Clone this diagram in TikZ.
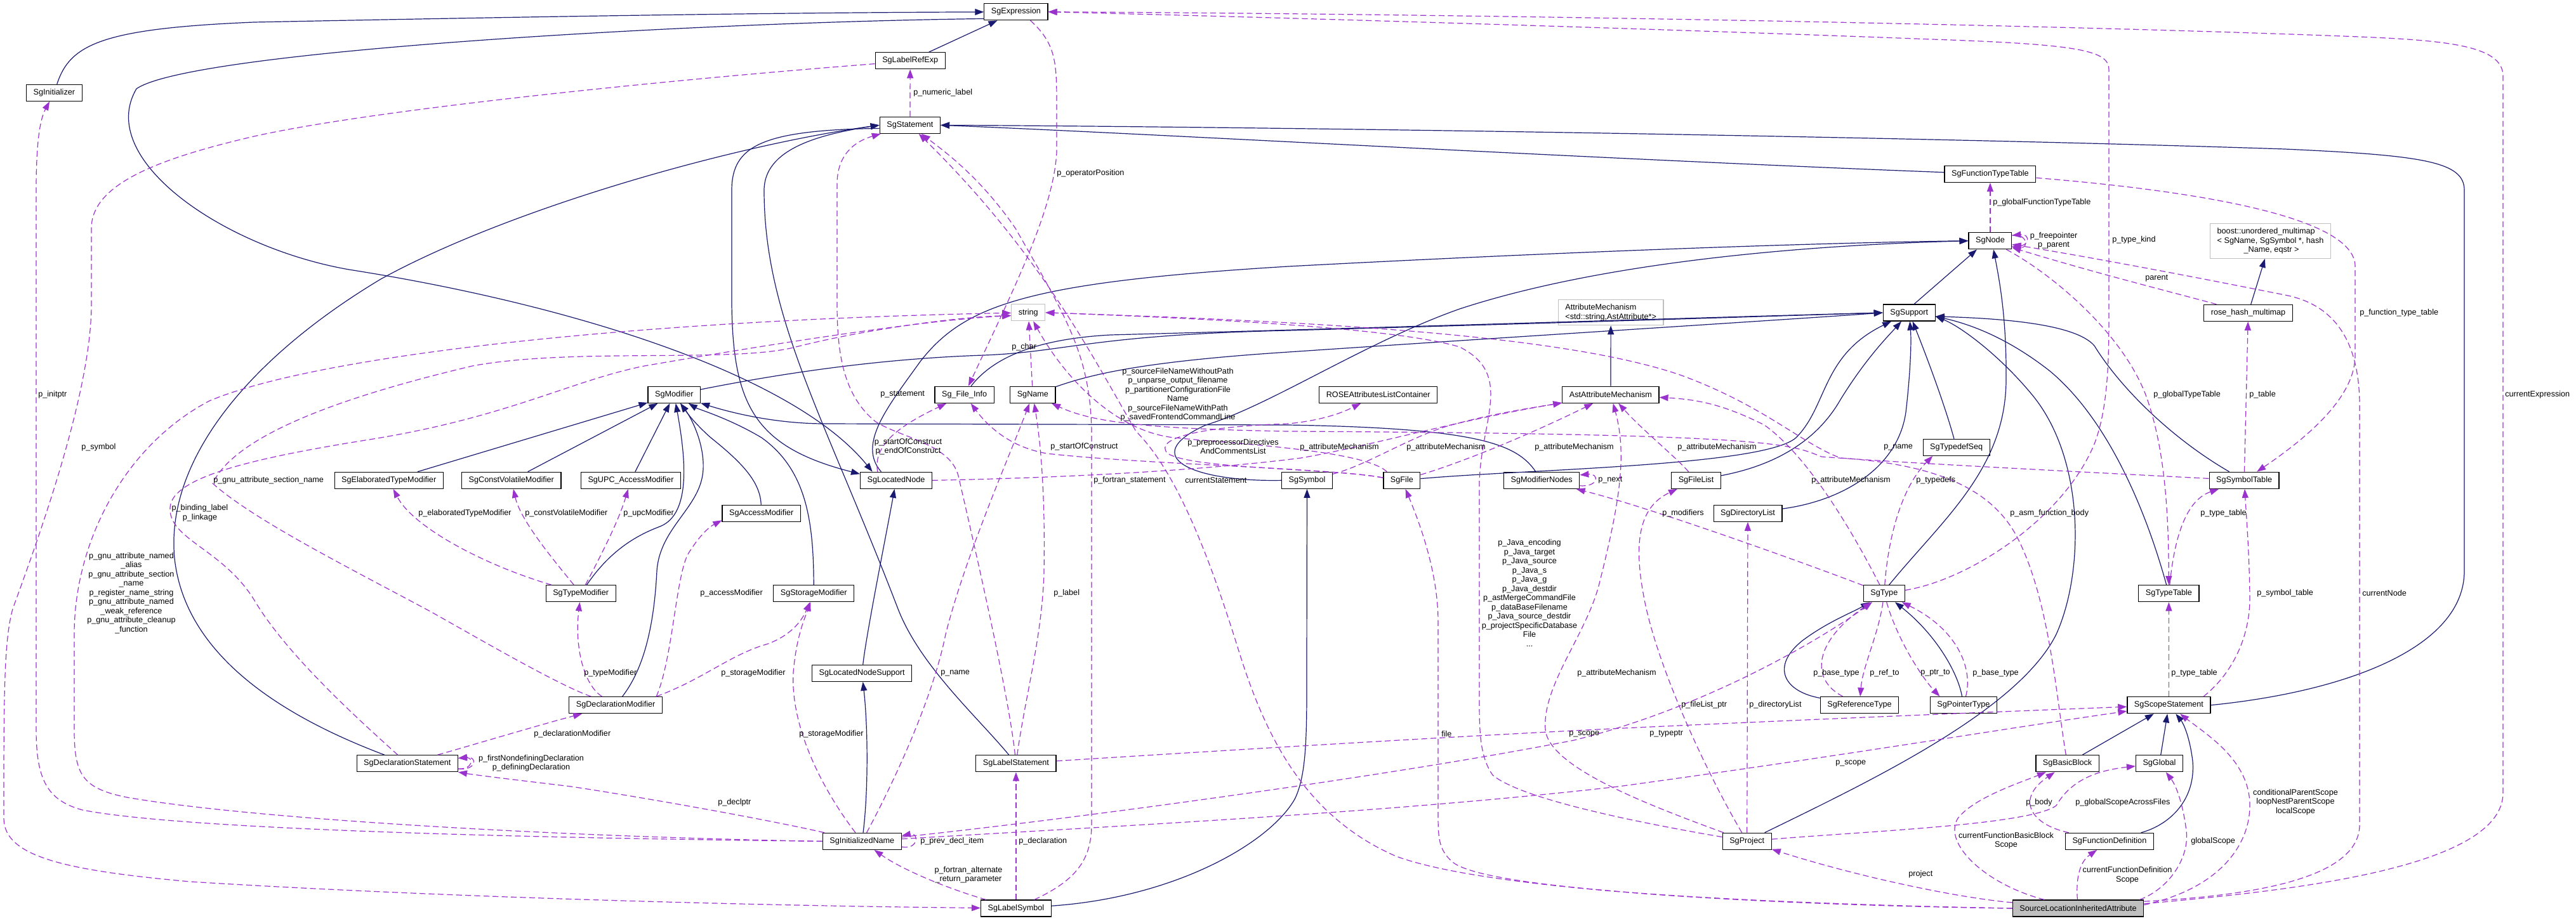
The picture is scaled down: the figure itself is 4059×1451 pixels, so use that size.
\documentclass[tikz,border=0pt]{standalone}
\usepackage{fontspec}
\setmainfont{Liberation Sans}
\usetikzlibrary{arrows.meta}
\definecolor{inh}{HTML}{191970}
\definecolor{use}{HTML}{9A32CD}
\definecolor{extb}{HTML}{BFBFBF}
\begin{document}
\begin{tikzpicture}[x=0.25mm,y=-0.25mm,
  every node/.style={font=\fontsize{9}{10.3}\selectfont},
  cls/.style={draw=black, line width=0.3mm, fill=white, minimum height=6.5mm, inner xsep=2.75mm, inner ysep=0.5mm},
  ext/.style={cls, draw=extb},
  hl/.style={cls, fill=extb},
  inhe/.style={draw=inh, line width=0.3mm, -{Triangle[length=3.5mm,width=2.5mm]}},
  usee/.style={draw=use, line width=0.3mm, dash pattern=on 2.3mm off 1.3mm, -{Triangle[length=3.5mm,width=2.5mm]}},
  lab/.style={inner sep=0pt, anchor=west},
  labc/.style={inner sep=0pt, align=center}]
\fill[white] (0,0) rectangle (4059,1451);
\useasboundingbox (0,0) rectangle (4059,1451);

% ---------- nodes ----------
\node[cls] (init) at (85.4,146.3) {SgInitializer};
\node[cls] (expr) at (1600.9,18.7) {SgExpression};
\node[cls] (lre) at (1434.2,95.7) {SgLabelRefExp};
\node[cls] (stmt) at (1433.9,197.3) {SgStatement};
\node[cls] (ftt) at (3135.9,274.5) {SgFunctionTypeTable};
\node[cls] (sgnode) at (3135.9,379.7) {SgNode};
\node[ext, align=left, minimum height=13.75mm] (boost) at (3577.5,379.8) {boost::unordered\_multimap\\< SgName, SgSymbol *, hash\\\hspace*{10.5mm}\_Name, eqstr >};
\node[cls] (rhm) at (3542.5,493.3) {rose\_hash\_multimap};
\node[ext] (strg) at (1620.3,492.8) {string};
\node[ext, align=left, minimum height=10mm] (attm) at (2538.2,492.7) {AttributeMechanism\\<std::string,AstAttribute*>};
\node[cls] (sup) at (3008.2,493) {SgSupport};
\node[cls] (mod) at (1062.3,622.3) {SgModifier};
\node[cls] (sfi) at (1519.6,622.3) {Sg\_File\_Info};
\node[cls] (sgname) at (1627.4,622.3) {SgName};
\node[cls] (ralc) at (2171.7,622.3) {ROSEAttributesListContainer};
\node[cls] (aam) at (2537.9,622.3) {AstAttributeMechanism};
\node[cls] (etm) at (612.7,757.3) {SgElaboratedTypeModifier};
\node[cls] (cvm) at (805.8,757.3) {SgConstVolatileModifier};
\node[cls] (upc) at (994,757.3) {SgUPC\_AccessModifier};
\node[cls] (acc) at (1199.7,809.3) {SgAccessModifier};
\node[cls] (lnode) at (1412,757.3) {SgLocatedNode};
\node[cls] (sym) at (2059.5,757.3) {SgSymbol};
\node[cls] (sgfile) at (2208.9,757.3) {SgFile};
\node[cls] (mnodes) at (2429.2,757.3) {SgModifierNodes};
\node[cls] (flist) at (2672.5,757.3) {SgFileList};
\node[cls] (tseq) at (3082.6,705.3) {SgTypedefSeq};
\node[cls] (stab) at (3536.1,757.3) {SgSymbolTable};
\node[cls] (dlist) at (2754,809.3) {SgDirectoryList};
\node[cls] (tmod) at (915.2,935.7) {SgTypeModifier};
\node[cls] (smod) at (1282.2,935.7) {SgStorageModifier};
\node[cls] (lns) at (1358.2,1061.3) {SgLocatedNodeSupport};
\node[cls] (sgtype) at (2968.8,935.7) {SgType};
\node[cls] (ttab) at (3417.4,935.7) {SgTypeTable};
\node[cls] (dmod) at (970.1,1111.7) {SgDeclarationModifier};
\node[cls] (reft) at (2930,1111.7) {SgReferenceType};
\node[cls] (ptrt) at (3093.9,1111.7) {SgPointerType};
\node[cls] (scst) at (3417.4,1111.7) {SgScopeStatement};
\node[cls] (dstmt) at (641.8,1203.7) {SgDeclarationStatement};
\node[cls] (lstmt) at (1600.9,1203.7) {SgLabelStatement};
\node[cls] (bb) at (3257.6,1203.7) {SgBasicBlock};
\node[cls] (glob) at (3402.5,1203.7) {SgGlobal};
\node[cls] (iname) at (1358.3,1326.3) {SgInitializedName};
\node[cls] (proj) at (2752.7,1326.3) {SgProject};
\node[cls] (fdef) at (3323.9,1326.3) {SgFunctionDefinition};
\node[cls] (lsym) at (1600.9,1432) {SgLabelSymbol};
\node[hl] (slia) at (3274.6,1432) {SourceLocationInheritedAttribute};

% ---------- inheritance ----------
\draw[inhe] (init) .. controls (110,70) and (160,45) .. (400,35) .. controls (800,27) and (1200,20) .. (expr);
\draw[inhe] (expr.192) .. controls (1100,35) and (300,80) .. (215,140) .. controls (150,250) and (350,390) .. (550,425) .. controls (900,480) and (1250,590) .. (lnode.160);
\draw[inhe] (lre) -- (expr);
\draw[inhe] (stmt.186) .. controls (1200,205) and (1153,230) .. (1153,300) -- (1153,480) .. controls (1155,640) and (1190,705) .. (lnode.170);
\draw[inhe] (lstmt) .. controls (1540,1130) and (1450,1050) .. (1415,960) .. controls (1300,660) and (1204,500) .. (1204,300) .. controls (1204,235) and (1290,212) .. (stmt.west);
\draw[inhe] (dstmt) .. controls (420,1120) and (290,1020) .. (275,880) .. controls (260,720) and (400,560) .. (600,440) .. controls (800,330) and (1150,230) .. (stmt.west);
\draw[inhe] (scst.east) .. controls (3700,1090) and (3883,1020) .. (3883,900) -- (3883,300) .. controls (3883,255) and (3820,245) .. (3600,235) .. controls (3000,215) and (2000,200) .. (stmt.east);
\draw[inhe] (ftt) .. controls (2500,250) and (1800,210) .. (stmt.east);
\draw[inhe] (lnode.150) .. controls (1350,700) and (1400,640) .. (1450,570) .. controls (1520,480) and (1620,445) .. (2030,420) .. controls (2500,395) and (2900,382) .. (sgnode.west);
\draw[inhe] (sym.west) .. controls (1880,760) and (1790,720) .. (1900,670) .. controls (2000,640) and (2150,540) .. (2300,487) .. controls (2550,405) and (2900,385) .. (sgnode.west);
\draw[inhe] (sup.60) -- (sgnode.213);
\draw[inhe] (sgtype.60) .. controls (3060,820) and (3160,740) .. (3161,600) .. controls (3162,500) and (3150,440) .. (sgnode.291);
\draw[inhe] (mod) .. controls (1250,585) and (1400,565) .. (1550,560) .. controls (1680,555) and (1720,528) .. (2030,521) .. controls (2500,508) and (2800,498) .. (sup.west);
\draw[inhe] (sfi) .. controls (1560,570) and (1620,535) .. (1750,528) .. controls (2200,516) and (2700,500) .. (sup.west);
\draw[inhe] (sgname) .. controls (1720,590) and (1800,570) .. (2030,555) .. controls (2400,530) and (2800,505) .. (sup.west);
\draw[inhe] (sgfile) .. controls (2400,740) and (2780,735) .. (2830,690) .. controls (2880,640) and (2870,560) .. (sup);
\draw[inhe] (mnodes) .. controls (2390,700) and (2330,675) .. (2030,670) -- (1300,668) .. controls (1220,668) and (1150,650) .. (mod);
\draw[inhe] (flist) .. controls (2790,735) and (2860,700) .. (2900,630) .. controls (2940,565) and (2975,530) .. (sup);
\draw[inhe] (dlist) .. controls (2900,790) and (2990,740) .. (3003,650) .. controls (3010,590) and (3012,540) .. (sup);
\draw[inhe] (tseq) .. controls (3065,640) and (3035,560) .. (sup);
\draw[inhe] (stab) .. controls (3420,690) and (3340,610) .. (3300,545) .. controls (3270,510) and (3150,502) .. (sup.-8);
\draw[inhe] (ttab) .. controls (3380,800) and (3320,660) .. (3230,585) .. controls (3160,530) and (3100,510) .. (sup.-8);
\draw[inhe] (proj) .. controls (2950,1230) and (3180,1120) .. (3240,1000) .. controls (3285,900) and (3285,720) .. (3200,620) .. controls (3150,560) and (3090,515) .. (sup.-8);
\draw[inhe] (etm) -- (mod);
\draw[inhe] (cvm) -- (mod);
\draw[inhe] (upc) -- (mod);
\draw[inhe] (acc) .. controls (1198,760) and (1170,730) .. (1120,690) .. controls (1095,668) and (1082,650) .. (mod);
\draw[inhe] (smod) .. controls (1282,820) and (1270,740) .. (1200,690) .. controls (1150,660) and (1100,645) .. (mod);
\draw[inhe] (tmod) .. controls (960,870) and (1000,845) .. (1040,830) .. controls (1090,810) and (1080,720) .. (mod);
\draw[inhe] (dmod) .. controls (1010,1060) and (1030,1000) .. (1035,900) .. controls (1040,830) and (1105,800) .. (1108,740) .. controls (1110,700) and (1090,660) .. (mod);
\draw[inhe] (lns) .. controls (1365,1000) and (1395,850) .. (lnode);
\draw[inhe] (iname) .. controls (1368,1250) and (1368,1150) .. (lns);
\draw[inhe] (lsym) .. controls (1850,1415) and (2000,1330) .. (2040,1260) .. controls (2060,1220) and (2059,1150) .. (2059,1050) -- (sym);
\draw[inhe] (reft) .. controls (2810,1090) and (2790,1050) .. (2840,1010) .. controls (2880,980) and (2920,965) .. (sgtype);
\draw[inhe] (ptrt) .. controls (3085,1060) and (3050,1000) .. (sgtype);
\draw[inhe] (bb) -- (scst);
\draw[inhe] (glob) -- (scst);
\draw[inhe] (fdef) .. controls (3420,1300) and (3460,1260) .. (3455,1200) .. controls (3450,1160) and (3440,1140) .. (scst);
\draw[inhe] (rhm) -- (boost);
\draw[inhe] (aam) -- (attm);

% ---------- usage ----------
\draw[usee] (iname.west) .. controls (900,1322) and (300,1310) .. (130,1277) .. controls (75,1262) and (57,1230) .. (57,1150) -- (57,300) .. controls (57,230) and (62,190) .. (init);
\draw[usee] (lre.185) .. controls (1100,122) and (600,170) .. (400,215) .. controls (250,250) and (144,290) .. (144,360) -- (144,480) .. controls (144,620) and (60,850) .. (20,960) .. controls (6,1010) and (6,1100) .. (6,1290) .. controls (6,1350) and (100,1372) .. (300,1390) .. controls (700,1415) and (1200,1428) .. (lsym);
\draw[usee] (iname.west) .. controls (900,1320) and (400,1292) .. (200,1257) .. controls (130,1243) and (117,1222) .. (117,1150) -- (117,1000) .. controls (117,850) and (200,700) .. (330,632) .. controls (500,560) and (1000,505) .. (strg);
\draw[usee] (dmod) .. controls (880,1080) and (760,1010) .. (680,965) .. controls (550,895) and (400,820) .. (335,762) .. controls (370,690) and (520,630) .. (744,577) .. controls (900,548) and (1150,572) .. (1250,548) .. controls (1350,522) and (1500,500) .. (strg.190);
\draw[usee] (dstmt) .. controls (560,1130) and (450,1030) .. (400,945) .. controls (350,865) and (265,850) .. (268,800) .. controls (271,752) and (400,722) .. (582,693) .. controls (800,658) and (900,600) .. (1015,577) .. controls (1200,545) and (1450,505) .. (strg.190);
\draw[usee] (sgname) -- (strg);
\draw[usee] (expr.-31) .. controls (1665,70) and (1665,100) .. (1665,170) -- (1665,240) .. controls (1660,330) and (1600,450) .. (sfi);
\draw[usee] (stmt) -- (lre);
\draw[usee] (lstmt) .. controls (1590,1100) and (1540,880) .. (1510,750) .. controls (1497,700) and (1420,690) .. (1380,665) .. controls (1330,625) and (1319,560) .. (1319,480) -- (1319,290) .. controls (1319,250) and (1340,225) .. (stmt);
\draw[usee] (lsym) .. controls (1690,1390) and (1720,1360) .. (1720,1300) -- (1720,680) .. controls (1718,560) and (1680,500) .. (1600,360) .. controls (1545,280) and (1490,240) .. (stmt);
\draw[usee] (slia.180) .. controls (2800,1427) and (2350,1405) .. (2200,1350) .. controls (2050,1285) and (1990,1150) .. (1950,1020) .. controls (1900,860) and (1850,740) .. (1790,680) .. controls (1720,560) and (1640,400) .. (stmt);
\draw[usee] (lnode.155) .. controls (1375,700) and (1420,670) .. (sfi);
\draw[usee] (sgfile.172) .. controls (2100,738) and (1800,732) .. (1650,715) .. controls (1590,705) and (1555,670) .. (sfi);
\draw[usee] (sgfile.150) .. controls (2150,710) and (1950,700) .. (1850,690) .. controls (1760,680) and (1680,600) .. (strg.-60);
\draw[usee] (sgfile.172) .. controls (2100,738) and (1880,740) .. (1840,715) .. controls (1815,690) and (1900,672) .. (2030,668) .. controls (2090,662) and (2120,648) .. (ralc);
\draw[usee] (lnode.east) .. controls (1750,752) and (1950,735) .. (2050,722) .. controls (2150,705) and (2300,662) .. (aam);
\draw[usee] (sym) .. controls (2150,735) and (2220,690) .. (2280,672) .. controls (2350,652) and (2420,642) .. (aam);
\draw[usee] (sgfile) .. controls (2300,730) and (2400,690) .. (aam);
\draw[usee] (flist) .. controls (2640,720) and (2590,680) .. (aam);
\draw[usee] (sgtype) .. controls (2920,840) and (2850,720) .. (2780,670) .. controls (2720,640) and (2680,630) .. (aam);
\draw[usee] (proj) .. controls (2600,1270) and (2440,1210) .. (2435,1150) .. controls (2430,1080) and (2500,1000) .. (2520,920) .. controls (2550,800) and (2565,720) .. (aam);
\draw[usee] (mnodes.-8) .. controls (2520,768) and (2520,746) .. (mnodes.8);
\draw[usee] (sgtype) .. controls (2850,890) and (2600,800) .. (mnodes);
\draw[usee] (stab) .. controls (3300,745) and (3000,730) .. (2870,720) .. controls (2820,700) and (2800,684) .. (2030,680) .. controls (1800,676) and (1720,665) .. (sgname);
\draw[usee] (sgtype) .. controls (2975,850) and (2995,770) .. (tseq.200);
\draw[usee] (bb) .. controls (3240,1100) and (3230,950) .. (3180,850) .. controls (3140,770) and (3050,732) .. (2900,722) .. controls (2840,700) and (2780,640) .. (2650,592) .. controls (2450,522) and (2000,505) .. (strg.east);
\draw[usee] (sgtype) .. controls (3100,915) and (3250,820) .. (3300,700) .. controls (3323,640) and (3323,560) .. (3323,480) -- (3323,110) .. controls (3323,80) and (3280,70) .. (3045,62) .. controls (2600,45) and (2000,27) .. (expr.east);
\draw[usee] (slia.4) .. controls (3600,1405) and (3944,1370) .. (3944,1250) -- (3944,120) .. controls (3944,70) and (3850,63) .. (3692,57) .. controls (3200,38) and (2300,22) .. (expr.east);
\draw[usee] (ftt) .. controls (3450,300) and (3711,340) .. (3711,420) -- (3711,560) .. controls (3711,620) and (3650,680) .. (stab);
\draw[usee] (sgnode) -- (ftt);
\draw[usee] (sgnode.-14) .. controls (3200,392) and (3200,368) .. (sgnode.14);
\draw[usee] (sgnode.14) .. controls (3196,368) and (3196,392) .. (sgnode.-14);
\draw[usee] (rhm) .. controls (3420,460) and (3300,430) .. (sgnode);
\draw[usee] (sgnode) .. controls (3230,430) and (3340,520) .. (3380,620) .. controls (3410,700) and (3417,800) .. (ttab);
\draw[usee] (slia.6) .. controls (3550,1412) and (3718,1385) .. (3718,1300) -- (3718,640) .. controls (3718,540) and (3680,480) .. (3600,465) .. controls (3400,425) and (3260,400) .. (sgnode);
\draw[usee] (ttab) .. controls (3425,860) and (3440,790) .. (stab);
\draw[usee] (scst) -- (ttab);
\draw[usee] (scst.14) .. controls (3520,1060) and (3546,1000) .. (3545,940) .. controls (3544,870) and (3540,820) .. (stab);
\draw[usee] (stab) -- (rhm);
\draw[usee] (slia) .. controls (3130,1395) and (3060,1330) .. (3085,1290) .. controls (3110,1258) and (3180,1235) .. (bb);
\draw[usee] (fdef) .. controls (3200,1300) and (3175,1260) .. (bb);
\draw[usee] (proj) .. controls (2950,1310) and (3200,1300) .. (3240,1270) .. controls (3262,1232) and (3300,1215) .. (glob);
\draw[usee] (slia) .. controls (3271,1390) and (3275,1360) .. (fdef);
\draw[usee] (slia.8) .. controls (3420,1400) and (3450,1350) .. (3445,1310) .. controls (3440,1270) and (3430,1240) .. (glob);
\draw[usee] (slia.3) .. controls (3500,1400) and (3545,1330) .. (3545,1270) .. controls (3545,1200) and (3480,1160) .. (scst);
\draw[usee] (slia.175) .. controls (3080,1415) and (2920,1380) .. (proj);
\draw[usee] (slia.180) .. controls (2800,1425) and (2350,1405) .. (2290,1360) .. controls (2266,1340) and (2266,1320) .. (2266,1280) -- (2266,980) .. controls (2266,900) and (2235,820) .. (sgfile);
\draw[usee] (proj) .. controls (2600,1300) and (2400,1262) .. (2352,1222) .. controls (2331,1192) and (2331,1150) .. (2331,1100) -- (2331,760) .. controls (2334,660) and (2385,590) .. (2300,547) .. controls (2200,517) and (1900,502) .. (strg.east);
\draw[usee] (proj) .. controls (2690,1220) and (2610,1050) .. (2590,940) .. controls (2575,860) and (2580,800) .. (flist);
\draw[usee] (proj) -- (dlist);
\draw[usee] (iname) .. controls (1700,1290) and (2200,1222) .. (2480,1167) .. controls (2700,1112) and (2880,1000) .. (sgtype);
\draw[usee] (iname) .. controls (1800,1300) and (2200,1280) .. (2550,1240) .. controls (2900,1192) and (3150,1150) .. (scst);
\draw[usee] (lstmt) .. controls (1900,1185) and (2300,1160) .. (2600,1146) .. controls (2900,1132) and (3200,1120) .. (scst);
\draw[usee] (reft) .. controls (2850,1070) and (2860,1010) .. (sgtype);
\draw[usee] (sgtype) .. controls (2960,1000) and (2935,1050) .. (reft);
\draw[usee] (sgtype) .. controls (2990,1010) and (3030,1070) .. (ptrt.160);
\draw[usee] (ptrt) .. controls (3110,1050) and (3080,990) .. (sgtype);
\draw[usee] (tmod) .. controls (760,890) and (650,830) .. (etm);
\draw[usee] (tmod) .. controls (870,880) and (820,820) .. (cvm);
\draw[usee] (tmod) .. controls (950,870) and (975,820) .. (upc);
\draw[usee] (dmod) .. controls (920,1080) and (905,1020) .. (tmod);
\draw[usee] (dmod.12) .. controls (1060,1040) and (1065,905) .. (1085,872) .. controls (1100,848) and (1115,832) .. (acc.190);
\draw[usee] (dmod.12) .. controls (1110,1070) and (1150,1032) .. (1210,1015) .. controls (1250,1000) and (1265,975) .. (smod);
\draw[usee] (iname) .. controls (1300,1250) and (1245,1150) .. (1250,1060) .. controls (1255,1000) and (1270,970) .. (smod);
\draw[usee] (dstmt) .. controls (760,1170) and (860,1140) .. (dmod);
\draw[usee] (dstmt.-6) .. controls (752,1215) and (752,1192) .. (dstmt.6);
\draw[usee] (dstmt.-6) .. controls (746,1213) and (746,1194) .. (dstmt.6);
\draw[usee] (iname) .. controls (1200,1290) and (1000,1255) .. (900,1240) .. controls (800,1228) and (750,1222) .. (dstmt);
\draw[usee] (iname.-8) .. controls (1448,1340) and (1448,1312) .. (iname.8);
\draw[usee] (lsym) .. controls (1490,1400) and (1420,1370) .. (iname);
\draw[usee] (lsym) -- (lstmt);
\draw[usee] (iname) .. controls (1410,1230) and (1470,1100) .. (1490,1000) .. controls (1520,880) and (1590,720) .. (sgname);
\draw[usee] (lstmt) .. controls (1615,1100) and (1643,1000) .. (1645,900) .. controls (1647,780) and (1640,700) .. (sgname);

% ---------- labels ----------
\node[lab] (L1) at (1439,146) {p\_numeric\_label};
\node[lab] (L2) at (1665,273) {p\_operatorPosition};
\node[lab] (L3) at (60,622) {p\_initptr};
\node[lab] (L4) at (128,705) {p\_symbol};
\node[labc] (L5) at (207,935) {p\_gnu\_attribute\_named\\\_alias\\p\_gnu\_attribute\_section\\\_name\\p\_register\_name\_string\\p\_gnu\_attribute\_named\\\_weak\_reference\\p\_gnu\_attribute\_cleanup\\\_function};
\node[lab] (L6) at (336,757) {p\_gnu\_attribute\_section\_name};
\node[labc] (L7) at (315,808.5) {p\_binding\_label\\p\_linkage};
\node[lab] (L8) at (659,809) {p\_elaboratedTypeModifier};
\node[lab] (L9) at (827,809) {p\_constVolatileModifier};
\node[lab] (L10) at (982,809) {p\_upcModifier};
\node[lab] (L11) at (920,1061) {p\_typeModifier};
\node[lab] (L12) at (1103,935) {p\_accessModifier};
\node[lab] (L13) at (1136,1061) {p\_storageModifier};
\node[lab] (L14) at (1259,1157) {p\_storageModifier};
\node[lab] (L15) at (841,1157) {p\_declarationModifier};
\node[labc] (L16) at (837,1203) {p\_firstNondefiningDeclaration\\p\_definingDeclaration};
\node[lab] (L17) at (1131,1265) {p\_declptr};
\node[lab] (L18) at (1450,1326) {p\_prev\_decl\_item};
\node[labc] (L19) at (1526,1379) {p\_fortran\_alternate\\\_return\_parameter};
\node[lab] (L20) at (1605,1326) {p\_declaration};
\node[lab] (L21) at (1482,1061) {p\_name};
\node[lab] (L22) at (1660,935) {p\_label};
\node[labc] (L23) at (1431,704) {p\_startOfConstruct\\p\_endOfConstruct};
\node[lab] (L24) at (1655,704) {p\_startOfConstruct};
\node[lab] (L25) at (1387,622) {p\_statement};
\node[lab] (L26) at (1594,547) {p\_char};
\node[labc] (L27) at (1856,622) {p\_sourceFileNameWithoutPath\\p\_unparse\_output\_filename\\p\_partitionerConfigurationFile\\Name\\p\_sourceFileNameWithPath\\p\_savedFrontendCommandLine};
\node[lab] (L28) at (1723,757) {p\_fortran\_statement};
\node[lab] (L29) at (1867,757) {currentStatement};
\node[labc] (L30) at (1943,704) {p\_preprocessorDirectives\\AndCommentsList};
\node[lab] (L31) at (2048,705) {p\_attributeMechanism};
\node[lab] (L32) at (2216,705) {p\_attributeMechanism};
\node[lab] (L33) at (2418,705) {p\_attributeMechanism};
\node[lab] (L34) at (2643,705) {p\_attributeMechanism};
\node[lab] (L35) at (2854,757) {p\_attributeMechanism};
\node[lab] (L36) at (2485,1061) {p\_attributeMechanism};
\node[lab] (L37) at (2518,757) {p\_next};
\node[lab] (L38) at (2619,809) {p\_modifiers};
\node[lab] (L39) at (2968,705) {p\_name};
\node[lab] (L40) at (3019,757) {p\_typedefs};
\node[labc] (L41) at (2410,935) {p\_Java\_encoding\\p\_Java\_target\\p\_Java\_source\\p\_Java\_s\\p\_Java\_g\\p\_Java\_destdir\\p\_astMergeCommandFile\\p\_dataBaseFilename\\p\_Java\_source\_destdir\\p\_projectSpecificDatabase\\File\\...};
\node[lab] (L42) at (2649,1111) {p\_fileList\_ptr};
\node[lab] (L43) at (2756,1111) {p\_directoryList};
\node[lab] (L44) at (2472,1157) {p\_scope};
\node[lab] (L45) at (2599,1157) {p\_typeptr};
\node[lab] (L46) at (2892,1203) {p\_scope};
\node[lab] (L47) at (2271,1157) {file};
\node[lab] (L48) at (3007,1378) {project};
\node[lab] (L49) at (2857,1061) {p\_base\_type};
\node[lab] (L50) at (2946,1061) {p\_ref\_to};
\node[lab] (L51) at (3026,1061) {p\_ptr\_to};
\node[lab] (L52) at (3108,1061) {p\_base\_type};
\node[lab] (L53) at (3167,809) {p\_asm\_function\_body};
\node[lab] (L54) at (3467,809) {p\_type\_table};
\node[lab] (L55) at (3393,622) {p\_globalTypeTable};
\node[lab] (L56) at (3544,622) {p\_table};
\node[lab] (L57) at (3947,622) {currentExpression};
\node[lab] (L58) at (3718,493) {p\_function\_type\_table};
\node[lab] (L59) at (3556,935) {p\_symbol\_table};
\node[lab] (L60) at (3722,935) {currentNode};
\node[lab] (L61) at (3421,1061) {p\_type\_table};
\node[labc] (L62) at (3161,1325) {currentFunctionBasicBlock\\Scope};
\node[lab] (L63) at (3192,1265) {p\_body};
\node[lab] (L64) at (3270,1265) {p\_globalScopeAcrossFiles};
\node[labc] (L65) at (3352,1379.5) {currentFunctionDefinition\\Scope};
\node[lab] (L66) at (3452,1326) {globalScope};
\node[labc] (L67) at (3617,1264.5) {conditionalParentScope\\loopNestParentScope\\localScope};
\node[lab] (L68) at (3140,319) {p\_globalFunctionTypeTable};
\node[labc] (L69) at (3236,379) {p\_freepointer\\p\_parent};
\node[lab] (L70) at (3328,378) {p\_type\_kind};
\node[lab] (L71) at (3380,439) {parent};
\end{tikzpicture}
\end{document}
